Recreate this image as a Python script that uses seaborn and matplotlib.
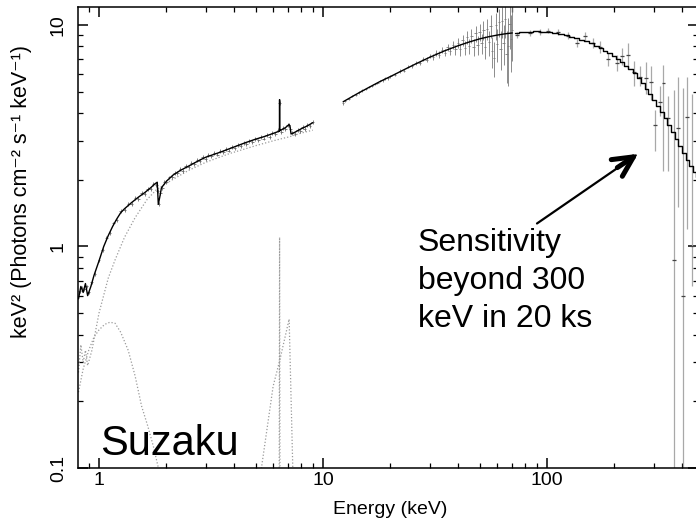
import numpy as np
import pandas as pd
import matplotlib
matplotlib.use("Agg")
import matplotlib.pyplot as plt
import seaborn as sns
from matplotlib.ticker import LogLocator, FuncFormatter, NullFormatter

# ---------------- XIS (0.8-9 keV) ----------------
xis_energy = [0.82, 0.84, 0.86, 0.88, 0.90, 0.93, 0.96, 1.00, 1.04, 1.08, 1.12, 1.16,
              1.20, 1.25, 1.30, 1.35, 1.40, 1.45, 1.50, 1.55, 1.60, 1.65, 1.70, 1.75,
              1.80, 1.83, 1.85, 1.88, 1.92, 1.96, 2.00, 2.06, 2.12, 2.18, 2.24, 2.30,
              2.37, 2.44, 2.51, 2.58, 2.66, 2.74, 2.82, 2.90, 2.99, 3.08, 3.17, 3.27,
              3.37, 3.47, 3.58, 3.69, 3.80, 3.92, 4.04, 4.16, 4.29, 4.42, 4.55, 4.69,
              4.83, 4.98, 5.13, 5.28, 5.44, 5.60, 5.77, 5.94, 6.12, 6.30, 6.40, 6.50,
              6.65, 6.80, 6.95, 7.05, 7.15, 7.30, 7.50, 7.70, 7.90, 8.10, 8.30, 8.50,
              8.75, 9.00]
xis_flux = [0.63, 0.65, 0.64, 0.66, 0.62, 0.69, 0.75, 0.87, 0.96, 1.09, 1.15, 1.27,
            1.31, 1.44, 1.46, 1.56, 1.56, 1.65, 1.64, 1.74, 1.73, 1.82, 1.81, 1.92,
            1.90, 1.78, 1.55, 1.74, 1.84, 1.96, 1.95, 2.05, 2.06, 2.15, 2.14, 2.23,
            2.20, 2.31, 2.28, 2.39, 2.36, 2.46, 2.44, 2.53, 2.49, 2.59, 2.55, 2.64,
            2.60, 2.70, 2.66, 2.75, 2.71, 2.82, 2.77, 2.87, 2.83, 2.94, 2.89, 3.00,
            2.95, 3.06, 3.01, 3.12, 3.07, 3.18, 3.13, 3.25, 3.21, 3.36, 4.45, 3.30,
            3.43, 3.38, 3.55, 3.52, 3.40, 3.26, 3.22, 3.37, 3.31, 3.46, 3.40, 3.55,
            3.50, 3.66]

xis_model_energy = [0.81, 0.83, 0.85, 0.87, 0.89, 0.92, 0.95, 1.00, 1.05, 1.10, 1.15,
                    1.20, 1.25, 1.30, 1.40, 1.50, 1.60, 1.70, 1.78, 1.82, 1.84, 1.87,
                    1.90, 2.00, 2.14, 2.30, 2.50, 2.83, 3.00, 3.50, 4.00, 4.50, 5.00,
                    5.50, 6.00, 6.35, 6.39, 6.40, 6.41, 6.45, 6.80, 7.05, 7.12, 7.20,
                    7.50, 8.00, 8.50, 9.00]
xis_model_flux = [0.58, 0.66, 0.62, 0.68, 0.60, 0.66, 0.74, 0.86, 1.00, 1.12, 1.23,
                  1.33, 1.42, 1.48, 1.58, 1.67, 1.75, 1.84, 1.92, 1.95, 1.55, 1.68,
                  1.84, 1.97, 2.10, 2.20, 2.30, 2.46, 2.53, 2.67, 2.81, 2.94, 3.05,
                  3.14, 3.24, 3.31, 3.32, 4.60, 3.33, 3.34, 3.44, 3.55, 3.50, 3.22,
                  3.28, 3.40, 3.50, 3.62]

# ---------------- model components ----------------
cont_energy = [0.81, 0.83, 0.85, 0.87, 0.89, 0.93, 1.00, 1.10, 1.18, 1.30, 1.45, 1.64,
               1.80, 2.00, 2.50, 3.00, 3.84, 5.00, 6.00, 7.10, 8.00, 9.00]
cont_flux = [0.27, 0.36, 0.30, 0.34, 0.29, 0.34, 0.50, 0.72, 0.87, 1.10, 1.35, 1.63,
             1.80, 1.93, 2.20, 2.40, 2.63, 2.85, 3.00, 3.13, 3.25, 3.35]

soft_energy = [0.81, 0.85, 0.90, 0.95, 1.00, 1.06, 1.12, 1.18, 1.25, 1.35, 1.45, 1.55,
               1.65, 1.75, 1.85, 1.95]
soft_flux = [0.22, 0.28, 0.34, 0.39, 0.42, 0.445, 0.455, 0.45, 0.41, 0.34, 0.26, 0.19,
             0.155, 0.125, 0.098, 0.08]

narrow_fe_energy = [6.37, 6.40, 6.43]
narrow_fe_flux = [0.05, 1.10, 0.05]

broad_fe_energy = [5.00, 5.34, 5.99, 6.43, 7.06, 7.33, 7.45]
broad_fe_flux = [0.06, 0.104, 0.234, 0.31, 0.47, 0.10, 0.05]

# ---------------- HXD-PIN (12-70 keV) ----------------
pin_energy = [12.3, 12.5, 13.0, 13.5, 14.0, 14.5, 15.0, 15.5, 16.0, 16.5, 17.0, 17.5,
              18.0, 18.5, 19.0, 19.5, 20.0, 21, 22, 23, 24, 25, 26, 27, 28, 29, 30,
              31, 32, 33, 34, 35, 36, 37, 38, 39, 40, 41, 42, 43, 44, 45, 46, 47, 48,
              49, 50, 51, 52, 53, 54, 55, 56, 57, 58, 59, 60, 61, 62, 63, 64, 65, 66,
              67, 68, 69, 70]
pin_flux = [4.42, 4.54, 4.64, 4.76, 4.84, 4.96, 5.06, 5.14, 5.24, 5.30, 5.42, 5.46,
            5.58, 5.62, 5.74, 5.76, 5.88, 5.96, 6.20, 6.22, 6.48, 6.50, 6.75, 6.74,
            7.00, 6.96, 7.24, 7.16, 7.46, 7.35, 7.70, 7.50, 7.92, 7.62, 8.12, 7.75,
            8.30, 7.75, 8.55, 7.90, 8.80, 8.05, 8.95, 7.95, 9.15, 8.10, 9.30, 8.25,
            9.50, 7.95, 9.60, 8.35, 9.90, 7.60, 7.10, 9.95, 8.20, 10.3, 7.80, 10.4,
            8.30, 10.6, 7.40, 8.00, 10.1, 8.60, 9.50]
pin_err = [0.06, 0.05, 0.05, 0.05, 0.06, 0.06, 0.06, 0.06, 0.07, 0.07, 0.07, 0.07,
           0.08, 0.08, 0.08, 0.09, 0.09, 0.10, 0.11, 0.12, 0.12, 0.13, 0.14, 0.15,
           0.16, 0.17, 0.18, 0.20, 0.22, 0.24, 0.26, 0.28, 0.30, 0.33, 0.36, 0.40,
           0.45, 0.48, 0.50, 0.55, 0.58, 0.62, 0.66, 0.70, 0.74, 0.78, 0.82, 0.86,
           0.92, 0.96, 1.02, 1.08, 1.14, 1.20, 1.30, 1.36, 1.42, 1.50, 1.56, 1.64,
           1.72, 1.85, 1.95, 2.70, 2.30, 2.50, 2.60]

pin_model_energy = [12.3, 14, 16, 18, 20, 23, 26, 30, 35, 40, 45, 50, 55, 60, 65, 70]
pin_model_flux = [4.50, 4.85, 5.22, 5.56, 5.85, 6.28, 6.68, 7.15, 7.65, 8.05, 8.38,
                  8.65, 8.85, 9.00, 9.12, 9.20]

# ---------------- HXD-GSO (70-470 keV) ----------------
gso_energy = [73.5, 84, 93, 101, 112, 124, 136, 148, 160, 172, 187, 205, 216, 230, 245,
              260, 277, 291, 303, 319, 331, 347, 369, 385, 405, 422, 445]
gso_flux = [9.00, 9.20, 9.30, 9.40, 9.30, 8.95, 8.30, 8.90, 8.30, 7.96, 7.00, 6.75,
            7.25, 7.30, 6.10, 5.84, 5.78, 5.54, 3.54, 4.50, 5.48, 3.81, 0.87, 3.43,
            0.60, 3.85, 1.00]
gso_low = [8.75, 8.95, 9.05, 9.15, 9.00, 8.60, 7.95, 8.50, 7.90, 7.50, 6.50, 6.20,
           6.60, 6.40, 5.30, 5.30, 4.90, 4.60, 2.70, 3.90, 2.20, 2.20, 0.01, 1.50,
           0.01, 1.20, 0.66]
gso_high = [9.25, 9.45, 9.55, 9.65, 9.60, 9.30, 8.65, 9.30, 8.70, 8.45, 7.50, 7.30,
            7.90, 8.30, 6.90, 6.50, 6.80, 6.50, 4.15, 5.30, 6.60, 4.80, 5.10, 5.80,
            5.20, 5.80, 4.90]

gso_model_energy = [72, 78, 84, 90, 96, 102, 108, 115, 122, 129, 136, 143, 150, 158,
                    166, 174, 182, 190, 199, 208, 217, 226, 236, 246, 256, 267, 278,
                    289, 301, 313, 325, 338, 351, 365, 379, 393, 408, 423, 439, 455,
                    471]
gso_model_flux = [9.22, 9.28, 9.32, 9.35, 9.33, 9.30, 9.22, 9.12, 8.98, 8.85, 8.70,
                  8.57, 8.42, 8.25, 8.06, 7.86, 7.66, 7.46, 7.23, 7.00, 6.78, 6.55,
                  6.30, 6.05, 5.78, 5.47, 5.16, 4.87, 4.58, 4.31, 4.05, 3.79, 3.54,
                  3.28, 3.04, 2.83, 2.63, 2.45, 2.30, 2.17, 2.05]

# ---------------- figure ----------------
sns.set_theme(style="ticks")
plt.rcParams["font.family"] = ["Liberation Sans", "DejaVu Sans"]
plt.rcParams["axes.linewidth"] = 1.1
plt.rcParams["text.color"] = "black"
plt.rcParams["axes.labelcolor"] = "black"
plt.rcParams["xtick.color"] = "black"
plt.rcParams["ytick.color"] = "black"

W, H = 696, 522
fig = plt.figure(figsize=(W / 100, H / 100), dpi=100)
fig.patch.set_facecolor("white")
ax = fig.add_axes([78 / W, 54 / H, 620 / W, 461 / H])
ax.set_facecolor("white")
ax.set_xscale("log")
ax.set_yscale("log")

dot_kw = dict(color="#9a9a9a", lw=0.9, linestyle=(0, (1, 1.6)), sort=False,
              estimator=None, legend=False, ax=ax)
for e, f in [(cont_energy, cont_flux), (soft_energy, soft_flux),
             (narrow_fe_energy, narrow_fe_flux), (broad_fe_energy, broad_fe_flux)]:
    sns.lineplot(x=e, y=f, **dot_kw)

# XIS data
xis_e = np.array(xis_energy)
xis_f = np.array(xis_flux)
ax.errorbar(xis_e, xis_f, xerr=0.015 * xis_e, yerr=0.02 * xis_f, fmt="none",
            ecolor="#6a6a6a", elinewidth=0.6, capsize=0)

# PIN data
pin_e = np.array(pin_energy)
ax.errorbar(pin_e, pin_flux, xerr=0.012 * pin_e, yerr=pin_err, fmt="none",
            ecolor="#7a7a7a", elinewidth=0.6, capsize=0)

# GSO data
gso_e = np.array(gso_energy)
gso_f = np.array(gso_flux)
ax.errorbar(gso_e, gso_f, yerr=[gso_f - np.array(gso_low), np.array(gso_high) - gso_f],
            fmt="none", ecolor="#a8a8a8", elinewidth=0.9, capsize=0)
ax.errorbar(gso_e, gso_f, xerr=0.02 * gso_e, fmt="none", ecolor="#444444",
            elinewidth=0.9, capsize=0)

# best-fit models
line_kw = dict(color="black", lw=1.0, sort=False, estimator=None, legend=False, ax=ax)
sns.lineplot(x=xis_model_energy, y=xis_model_flux, **line_kw)
sns.lineplot(x=pin_model_energy, y=pin_model_flux, **line_kw)
sns.lineplot(x=gso_model_energy, y=gso_model_flux, drawstyle="steps-mid", **line_kw)

ax.set_xlim(0.806, 472)
ax.set_ylim(0.1, 12.05)

# axes decoration
ax.xaxis.set_major_locator(LogLocator(base=10, numticks=10))
ax.yaxis.set_major_locator(LogLocator(base=10, numticks=10))
ax.xaxis.set_minor_locator(LogLocator(base=10, subs=np.arange(2, 10), numticks=20))
ax.yaxis.set_minor_locator(LogLocator(base=10, subs=np.arange(2, 10), numticks=20))
fmt = FuncFormatter(lambda v, p: f"{v:g}")
ax.xaxis.set_major_formatter(fmt)
ax.yaxis.set_major_formatter(fmt)
ax.xaxis.set_minor_formatter(NullFormatter())
ax.yaxis.set_minor_formatter(NullFormatter())

ax.tick_params(which="both", direction="in", top=True, right=True, color="black",
               labelsize=14, labelcolor="black")
ax.tick_params(which="major", length=7, width=1.1)
ax.tick_params(which="minor", length=3.7, width=0.9)
ax.tick_params(axis="x", which="major", pad=3)
ax.tick_params(axis="y", which="major", pad=8, labelrotation=90)
for lab in ax.get_yticklabels():
    lab.set_verticalalignment("center")
for sp in ax.spines.values():
    sp.set_color("black")
    sp.set_linewidth(1.1)

ax.set_xlabel("")
ax.set_ylabel("")
fig.text(390 / W, 1 - 509 / H, "Energy (keV)", ha="center", va="center", fontsize=14)
fig.text(22 / W, 1 - 192 / H, "keV\u00b2 (Photons cm\u207b\u00b2 s\u207b\u00b9 keV\u207b\u00b9)",
         rotation=90, ha="center", va="center", fontsize=15.5)

fig.text(100 / W, 1 - 455 / H, "Suzaku", fontsize=30, ha="left", va="baseline")
for i, line in enumerate(["Sensitivity", "beyond 300", "keV in 20 ks"]):
    fig.text(418 / W, 1 - (251 + 38 * i) / H, line, fontsize=23, ha="left",
             va="baseline")

# arrow: thin shaft with a heavy head
ax.annotate("", xy=(255, 2.62), xytext=(90.2, 1.27),
            arrowprops=dict(arrowstyle="-", lw=1.6, color="black",
                            shrinkA=0, shrinkB=2))
ax.annotate("", xy=(255, 2.62), xytext=(206, 2.27),
            arrowprops=dict(arrowstyle="->,head_length=0.9,head_width=0.45",
                            lw=3.6, color="black", shrinkA=0, shrinkB=0,
                            mutation_scale=16))

fig.savefig("out.png", dpi=100, facecolor="white")
